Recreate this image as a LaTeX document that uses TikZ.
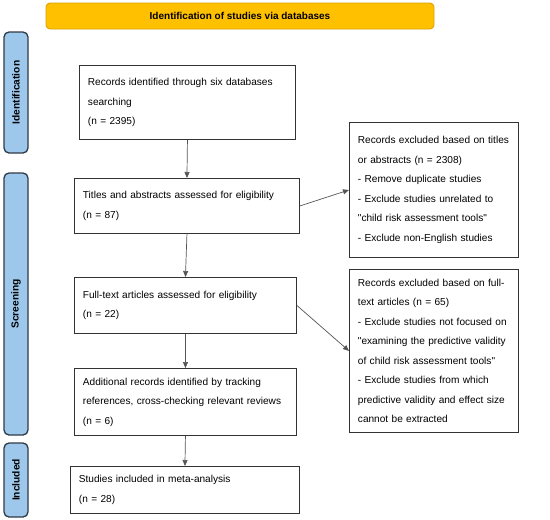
\documentclass[tikz,border=0pt]{standalone}
\usepackage{fontspec}
\setmainfont{Liberation Sans}
\newfontfamily\plainfont{Liberation Sans}
\usetikzlibrary{arrows.meta}
\definecolor{bannerfill}{HTML}{FFC000}
\definecolor{bannerdraw}{HTML}{D9A300}
\definecolor{barfill}{HTML}{9DC8EC}
\definecolor{bardraw}{HTML}{2F3A45}
\definecolor{boxdraw}{HTML}{333333}
\definecolor{arrdraw}{HTML}{555555}
\tikzset{
  banner/.style={draw=bannerdraw, fill=bannerfill, line width=0.9pt, rounded corners=4pt,
    font=\plainfont\fontsize{10}{11}\selectfont\bfseries, inner sep=0pt},
  sidebar/.style={draw=bardraw, fill=barfill, line width=1.3pt, rounded corners=5pt,
    rotate=90, minimum height=24pt, inner sep=0pt, font=\plainfont\fontsize{10.2}{11}\selectfont\bfseries},
  flowbox/.style={draw=boxdraw, line width=0.9pt, anchor=north west, inner xsep=8.5pt, inner ysep=0pt,
    align=left, font=\plainfont\fontsize{10.1}{19.5}\selectfont},
  arr/.style={draw=arrdraw, line width=0.7pt, -{Triangle[length=6pt,width=5pt]}}
}
\begin{document}
\begin{tikzpicture}[x=1pt,y=-1pt]
\useasboundingbox (0,0) rectangle (550,520);
\node[banner, minimum width=388pt, minimum height=26pt] (banner) at (240,16) {Identification of studies via databases};
\node[sidebar, minimum width=121pt] (sid) at (16,92.5) {Identification};
\node[sidebar, minimum width=262pt] (ssc) at (16,304) {Screening};
\node[sidebar, minimum width=74pt] (sin) at (16,480) {Included};

\node[flowbox, text width=199pt, minimum height=74pt] (b1) at (79,65)
  {Records identified through six databases\\searching\\(n = 2395)};
\node[flowbox, text width=208pt, minimum height=55pt] (b2) at (74,178)
  {Titles and abstracts assessed for eligibility\\(n = 87)};
\node[flowbox, text width=205pt, minimum height=56pt] (b3) at (74,277)
  {Full-text articles assessed for eligibility\\(n = 22)};
\node[flowbox, text width=205pt, minimum height=67pt] (b4) at (74,368)
  {Additional records identified by tracking\\references, cross-checking relevant reviews\\(n = 6)};
\node[flowbox, text width=212pt, minimum height=47pt] (b5) at (70,466)
  {Studies included in meta-analysis\\(n = 28)};

\node[flowbox, text width=152pt, minimum height=135pt] (r1) at (349,122)
  {Records excluded based on titles\\or abstracts (n = 2308)\\- Remove duplicate studies\\- Exclude studies unrelated to\\"child risk assessment tools"\\- Exclude non-English studies};
\node[flowbox, text width=152pt, minimum height=163pt] (r2) at (349,269)
  {Records excluded based on full-\\text articles (n = 65)\\- Exclude studies not focused on\\"examining the predictive validity\\of child risk assessment tools"\\- Exclude studies from which\\predictive validity and effect size\\cannot be extracted};

\draw[arr] (b1.south) -- (b2.north);
\draw[arr] (b2.south) -- (b3.north);
\draw[arr] (b3.south) -- (b4.north);
\draw[arr] (b4.south) -- (b5.north);
\draw[arr] (b2.east) -- (r1.west);
\draw[arr] (b3.east) -- (r2.west);
\end{tikzpicture}
\end{document}
